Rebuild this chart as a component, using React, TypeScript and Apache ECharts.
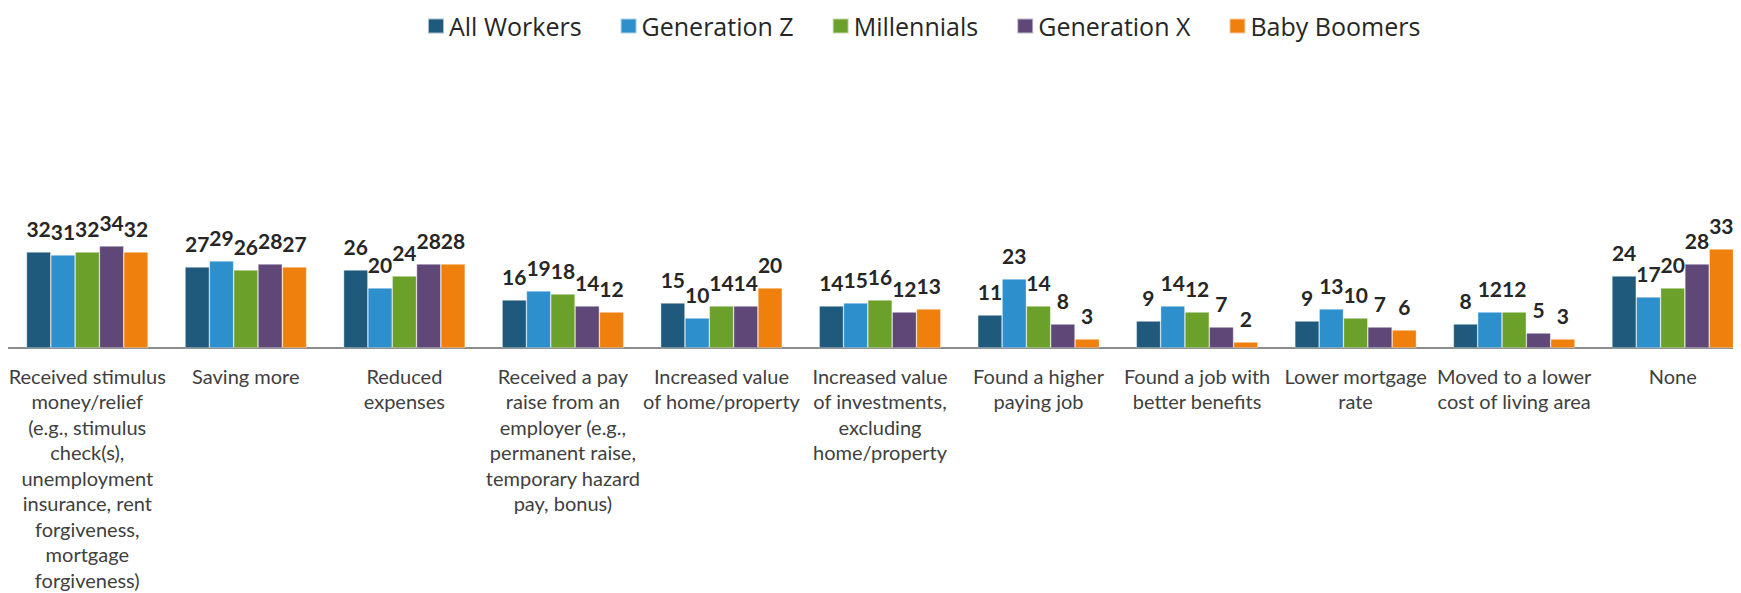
import React, { useEffect, useRef } from "react";
import * as echarts from "echarts";

const categories = [
  "Received stimulus\nmoney/relief\n(e.g., stimulus\ncheck(s),\nunemployment\ninsurance, rent\nforgiveness,\nmortgage\nforgiveness)",
  "Saving more",
  "Reduced\nexpenses",
  "Received a pay\nraise from an\nemployer (e.g.,\npermanent raise,\ntemporary hazard\npay, bonus)",
  "Increased value\nof home/property",
  "Increased value\nof investments,\nexcluding\nhome/property",
  "Found a higher\npaying job",
  "Found a job with\nbetter benefits",
  "Lower mortgage\nrate",
  "Moved to a lower\ncost of living area",
  "None",
];

const seriesNames = ["All Workers", "Generation Z", "Millennials", "Generation X", "Baby Boomers"];

const allWorkers = [32, 27, 26, 16, 15, 14, 11, 9, 9, 8, 24];
const generationZ = [31, 29, 20, 19, 10, 15, 23, 14, 13, 12, 17];
const millennials = [32, 26, 24, 18, 14, 16, 14, 12, 10, 12, 20];
const generationX = [34, 28, 28, 14, 14, 12, 8, 7, 7, 5, 28];
const babyBoomers = [32, 27, 28, 12, 20, 13, 3, 2, 6, 3, 33];

const seriesData = [allWorkers, generationZ, millennials, generationX, babyBoomers];
const colors = ["#1F5A7D", "#2E8FCD", "#6BA12B", "#5F4878", "#F0800D"];

export default function App() {
  const ref = useRef<HTMLDivElement>(null);

  useEffect(() => {
    if (!ref.current) return;
    const chart = echarts.init(ref.current, undefined, { renderer: "svg" });
    chart.setOption({
      animation: false,
      color: colors,
      legend: {
        top: 0,
        left: 414,
        padding: 5,
        itemWidth: 16,
        itemHeight: 15,
        itemGap: 38,
        icon: "rect",
        textStyle: {
          fontFamily: "Open Sans",
          fontSize: 25,
          lineHeight: 26,
          color: "#262626",
        },
        data: seriesNames,
      },
      grid: {
        left: 0,
        width: 1744,
        top: 160,
        bottom: 245,
        containLabel: false,
        outerBoundsMode: "none",
      },
      xAxis: {
        type: "category",
        data: categories,
        axisLine: { show: true, lineStyle: { color: "#8C8C8C", width: 2 } },
        axisTick: { show: false },
        axisLabel: {
          interval: 0,
          margin: 15,
          fontFamily: "Lato",
          fontSize: 20,
          lineHeight: 25.5,
          color: "#404040",
          align: "center",
        },
      },
      yAxis: {
        type: "value",
        min: 0,
        max: 60,
        show: false,
        splitLine: { show: false },
      },
      series: seriesData.map((d, i) => ({
        name: seriesNames[i],
        type: "bar",
        data: d,
        barGap: "0%",
        barCategoryGap: "23.3%",
        itemStyle: { color: colors[i], borderColor: "rgba(255,255,255,0.6)", borderWidth: 0.6 },
        label: {
          show: true,
          position: "top",
          distance: 13,
          fontFamily: "Lato",
          fontWeight: "bold",
          fontSize: 21,
          color: "#262626",
        },
      })),
    });
    return () => chart.dispose();
  }, []);

  return <div ref={ref} style={{ width: 1725, height: 585 }} />;
}
